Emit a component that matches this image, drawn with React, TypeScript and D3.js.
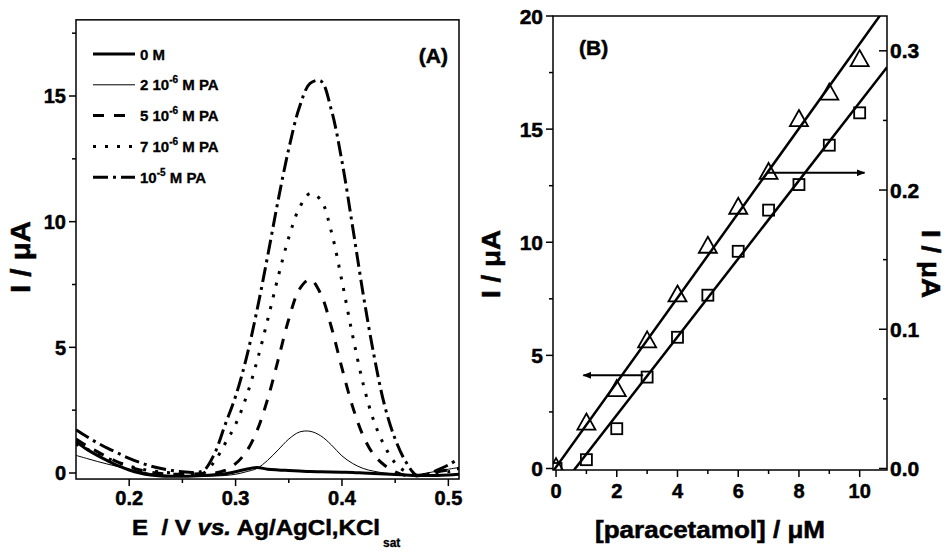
import React from 'react';
import * as d3 from 'd3';

// Panel A: differential pulse voltammograms
const potentials = [
  0.15, 0.16, 0.17, 0.18, 0.19, 0.2, 0.21, 0.22, 0.23, 0.24, 0.25, 0.26, 0.27,
  0.28, 0.29, 0.3, 0.31, 0.32, 0.33, 0.34, 0.35, 0.36, 0.37, 0.38, 0.39, 0.4,
  0.41, 0.42, 0.43, 0.44, 0.45, 0.46, 0.47, 0.48, 0.49, 0.5, 0.51,
];
const current0M = [
  1.25, 0.95, 0.7, 0.48, 0.28, 0.12, 0.0, -0.08, -0.12, -0.13, -0.13, -0.12, -0.1,
  -0.07, -0.03, 0.05, 0.15, 0.22, 0.15, 0.12, 0.1, 0.08, 0.06, 0.05, 0.04, 0.03,
  0.02, 0.0, -0.02, -0.04, -0.06, -0.08, -0.1, -0.1, -0.1, -0.08, -0.05,
];
const current2e6 = [
  0.7, 0.58, 0.46, 0.35, 0.25, 0.15, 0.06, -0.02, -0.07, -0.1, -0.12, -0.13, -0.13,
  -0.12, -0.1, -0.05, 0.05, 0.18, 0.5, 0.92, 1.35, 1.63, 1.66, 1.48, 1.12, 0.68,
  0.38, 0.18, 0.07, 0.0, -0.04, -0.06, -0.06, 0.0, 0.08, 0.15, 0.22,
];
const current5e6 = [
  1.35, 1.08, 0.85, 0.62, 0.42, 0.25, 0.12, 0.03, -0.02, -0.05, -0.05, -0.04, -0.02,
  0.0, 0.1, 0.37, 0.84, 1.67, 2.92, 4.5, 6.12, 7.31, 7.7, 7.13, 5.81, 4.17,
  2.64, 1.47, 0.72, 0.31, 0.05, -0.1, -0.12, -0.05, 0.05, 0.12, 0.18,
];
const current7e6 = [
  1.15, 0.95, 0.76, 0.58, 0.42, 0.28, 0.17, 0.09, 0.04, 0.01, 0.0, -0.02, 0.0,
  0.45, 1.16, 1.93, 3.02, 4.43, 6.07, 7.8, 9.37, 10.55, 11.12, 10.87, 9.6, 7.63,
  5.47, 3.54, 2.06, 1.08, 0.4, 0.05, -0.1, -0.08, 0.0, 0.05, 0.1,
];
const current1e5 = [
  1.72, 1.45, 1.2, 0.98, 0.78, 0.58, 0.42, 0.28, 0.18, 0.1, 0.05, 0.02, 0.1,
  0.75, 1.9, 3.05, 4.55, 6.45, 8.6, 10.85, 12.9, 14.55, 15.5, 15.6, 14.45, 12.4,
  9.8, 7.1, 4.7, 2.7, 1.35, 0.45, -0.08, -0.05, 0.12, 0.32, 0.58,
];
const legendLabels = [
  { main: '0 M', sup: '', tail: '' },
  { main: '2 10', sup: '-6', tail: ' M PA' },
  { main: '5 10', sup: '-6', tail: ' M PA' },
  { main: '7 10', sup: '-6', tail: ' M PA' },
  { main: '10', sup: '-5', tail: ' M PA' },
];
const xTicksA = [0.2, 0.3, 0.4, 0.5];
const xMinorA = [0.25, 0.35, 0.45];
const yTicksA = [0, 5, 10, 15];
const yMinorA = [2.5, 7.5, 12.5, 17.5];

// Panel B: calibration
const concentrations = [0, 1, 2, 3, 4, 5, 6, 7, 8, 9, 10];
const peakCurrentSquares = [0.0, 0.39, 1.76, 4.04, 5.8, 7.66, 9.6, 11.42, 12.55, 14.29, 15.72];
const peakCurrentTriangles = [0.001, 0.033, 0.057, 0.092, 0.125, 0.16, 0.188, 0.213, 0.251, 0.27, 0.294];
const squareFit = [1.727, -1.09]; // slope, intercept (left axis)
const triangleFit = [0.0304, 0.001]; // slope, intercept (right axis)
const leftArrow = [2.87, 0.9, 4.12]; // from x, to x, at I (left axis)
const rightArrow = [6.98, 10.16, 13.07];
const xTicksB = [0, 2, 4, 6, 8, 10];
const xMinorB = [1, 3, 5, 7, 9];
const yTicksB = [0, 5, 10, 15, 20];
const yMinorB = [2.5, 7.5, 12.5, 17.5];
const yTicksBRight = [0.0, 0.1, 0.2, 0.3];
const yMinorBRight = [0.05, 0.15, 0.25];

const FONT = '"Liberation Sans", Arial, sans-serif';

const styles = [
  { width: 3, dash: null },
  { width: 1, dash: null },
  { width: 3, dash: '11,10' },
  { width: 3, dash: '3,9' },
  { width: 3, dash: '15,5,3,5' },
];

export default function App() {
  // ---- panel A scales
  const xA = d3.scaleLinear().domain([0.15, 0.51]).range([76, 459]);
  const yA = d3.scaleLinear().domain([0, 15]).range([473, 96]);
  const topA = yA(18.03);
  const bottomA = yA(-0.24);

  const seriesA = [current0M, current2e6, current5e6, current7e6, current1e5];
  const lineA = d3
    .line<number>()
    .x((_, i) => xA(potentials[i]))
    .y((d) => yA(d))
    .curve(d3.curveCatmullRom.alpha(0.5));

  // ---- panel B scales
  const xB = d3.scaleLinear().domain([-0.1, 10.9]).range([553, 887]);
  const yB = d3.scaleLinear().domain([0, 20]).range([468.5, 16]);
  const yBR = d3.scaleLinear().domain([0, 0.325]).range([468.5, 16]);
  const bottomB = 470;
  const fitLine = (fit: number[], scale: d3.ScaleLinear<number, number>) => {
    const [x0, x1] = xB.domain();
    return d3.line()([
      [xB(x0), scale(fit[0] * x0 + fit[1])],
      [xB(x1), scale(fit[0] * x1 + fit[1])],
    ]) as string;
  };

  // heavy bold look of the original
  const bold = {
    fontFamily: FONT,
    fontWeight: 'bold' as const,
    fill: '#000',
    stroke: '#000',
    strokeWidth: 0.5,
  };

  return (
    <svg
      width={945}
      height={551}
      style={{ position: 'absolute', left: 0, top: 0, background: '#fff' }}
    >
      <defs>
        <clipPath id="clipA">
          <rect x={76} y={topA} width={459 - 76} height={bottomA - topA} />
        </clipPath>
        <clipPath id="clipB">
          <rect x={553} y={16} width={887 - 553} height={bottomB - 16} />
        </clipPath>
        <marker id="arrowHead" viewBox="0 0 10 8" refX={9} refY={4} markerWidth={9} markerHeight={7} markerUnits="userSpaceOnUse" orient="auto">
          <path d="M0,0 L10,4 L0,8 Z" fill="#000" />
        </marker>
      </defs>

      {/* ================= PANEL A ================= */}
      <g clipPath="url(#clipA)">
        {seriesA.map((s, i) => (
          <path
            key={i}
            d={lineA(s) as string}
            fill="none"
            stroke="#000"
            strokeWidth={styles[i].width}
            strokeDasharray={styles[i].dash ?? undefined}
          />
        ))}
      </g>
      <rect x={76} y={topA} width={459 - 76} height={bottomA - topA} fill="none" stroke="#000" strokeWidth={1.5} />

      {/* y axis A */}
      {yTicksA.map((t) => (
        <g key={t}>
          <line x1={69} x2={76} y1={yA(t)} y2={yA(t)} stroke="#000" strokeWidth={1.5} />
          <text x={66} y={yA(t)} dy="0.36em" textAnchor="end" fontSize={20} {...bold}>{t}</text>
        </g>
      ))}
      {yMinorA.map((t) => (
        <line key={t} x1={72} x2={76} y1={yA(t)} y2={yA(t)} stroke="#000" strokeWidth={1.5} />
      ))}
      {/* x axis A */}
      {xTicksA.map((t) => (
        <g key={t}>
          <line x1={xA(t)} x2={xA(t)} y1={bottomA} y2={bottomA + 7} stroke="#000" strokeWidth={1.5} />
          <text x={xA(t)} y={505} textAnchor="middle" fontSize={20} {...bold}>{t.toFixed(1)}</text>
        </g>
      ))}
      {xMinorA.map((t) => (
        <line key={t} x1={xA(t)} x2={xA(t)} y1={bottomA} y2={bottomA + 4} stroke="#000" strokeWidth={1.5} />
      ))}

      <text transform="translate(30,257) rotate(-90)" textAnchor="middle" fontSize={28} textLength={72} lengthAdjust="spacingAndGlyphs" {...bold}>
        I / μA
      </text>
      <text x={132} y={535} fontSize={22} textLength={248} lengthAdjust="spacingAndGlyphs" xmlSpace="preserve" {...bold}>
        {'E  / V '}<tspan fontStyle="italic">vs.</tspan>{' Ag/AgCl,KCl'}
      </text>
      <text x={383} y={547} fontSize={12} {...bold} strokeWidth={0.3}>sat</text>

      {/* legend */}
      {legendLabels.map((l, i) => {
        const y = 54 + i * 30.8;
        return (
          <g key={i}>
            <line x1={93} x2={135} y1={y} y2={y} stroke="#000" strokeWidth={styles[i].width} strokeDasharray={styles[i].dash ?? undefined} />
            <text x={140} y={y + 5.5} fontSize={15} xmlSpace="preserve" {...bold} strokeWidth={0.3}>
              {l.main}
              {l.sup && <tspan dy={-7} fontSize={10}>{l.sup}</tspan>}
              {l.tail && <tspan dy={7}>{l.tail}</tspan>}
            </text>
          </g>
        );
      })}
      <text x={448} y={63} textAnchor="end" fontSize={21} {...bold}>(A)</text>

      {/* ================= PANEL B ================= */}
      <g clipPath="url(#clipB)">
        <path d={fitLine(squareFit, yB)} stroke="#000" strokeWidth={2.5} fill="none" />
        <path d={fitLine(triangleFit, yBR)} stroke="#000" strokeWidth={2.5} fill="none" />
        {concentrations.map((c, i) => (
          <rect
            key={'s' + i}
            x={xB(c) - 5.5}
            y={yB(peakCurrentSquares[i]) - 5.5}
            width={11}
            height={11}
            fill="none"
            stroke="#000"
            strokeWidth={1.8}
          />
        ))}
        {concentrations.map((c, i) => (
          <path
            key={'t' + i}
            transform={`translate(${xB(c)},${yBR(peakCurrentTriangles[i])})`}
            d="M0,-9 L9,7 L-9,7 Z"
            fill="none"
            stroke="#000"
            strokeWidth={1.8}
          />
        ))}
      </g>
      <line x1={xB(leftArrow[0])} x2={xB(leftArrow[1])} y1={yB(leftArrow[2])} y2={yB(leftArrow[2])} stroke="#000" strokeWidth={2} markerEnd="url(#arrowHead)" />
      <line x1={xB(rightArrow[0])} x2={xB(rightArrow[1])} y1={yB(rightArrow[2])} y2={yB(rightArrow[2])} stroke="#000" strokeWidth={2} markerEnd="url(#arrowHead)" />

      <rect x={553} y={16} width={887 - 553} height={bottomB - 16} fill="none" stroke="#000" strokeWidth={1.5} />

      {/* left y axis B */}
      {yTicksB.map((t) => (
        <g key={t}>
          <line x1={546} x2={553} y1={yB(t)} y2={yB(t)} stroke="#000" strokeWidth={1.5} />
          <text x={543} y={yB(t)} dy="0.36em" textAnchor="end" fontSize={21} {...bold}>{t}</text>
        </g>
      ))}
      {yMinorB.map((t) => (
        <line key={t} x1={549} x2={553} y1={yB(t)} y2={yB(t)} stroke="#000" strokeWidth={1.5} />
      ))}
      {/* right y axis B (ticks inward) */}
      {yTicksBRight.map((t) => (
        <g key={t}>
          <line x1={879} x2={887} y1={yBR(t)} y2={yBR(t)} stroke="#000" strokeWidth={1.5} />
          <text x={890} y={yBR(t)} dy="0.36em" textAnchor="start" fontSize={21} {...bold}>{t.toFixed(1)}</text>
        </g>
      ))}
      {yMinorBRight.map((t) => (
        <line key={t} x1={883} x2={887} y1={yBR(t)} y2={yBR(t)} stroke="#000" strokeWidth={1.5} />
      ))}
      {/* x axis B */}
      {xTicksB.map((t) => (
        <g key={t}>
          <line x1={xB(t)} x2={xB(t)} y1={bottomB} y2={bottomB + 7} stroke="#000" strokeWidth={1.5} />
          <text x={xB(t)} y={498} textAnchor="middle" fontSize={20} {...bold}>{t}</text>
        </g>
      ))}
      {xMinorB.map((t) => (
        <line key={t} x1={xB(t)} x2={xB(t)} y1={bottomB} y2={bottomB + 4} stroke="#000" strokeWidth={1.5} />
      ))}

      <text transform="translate(500,264) rotate(-90)" textAnchor="middle" fontSize={26} textLength={68} lengthAdjust="spacingAndGlyphs" {...bold}>
        I / μA
      </text>
      <text transform="translate(922,264) rotate(90)" textAnchor="middle" fontSize={25} textLength={68} lengthAdjust="spacingAndGlyphs" {...bold}>
        I / μA
      </text>
      <text x={710} y={538} textAnchor="middle" fontSize={23} textLength={230} lengthAdjust="spacingAndGlyphs" {...bold}>
        [paracetamol] / μM
      </text>
      <text x={579} y={55} fontSize={21} {...bold}>(B)</text>
    </svg>
  );
}
